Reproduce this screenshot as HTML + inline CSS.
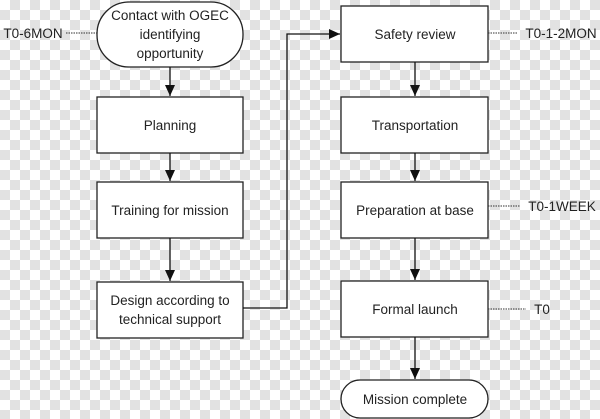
<!DOCTYPE html>
<html><head><style>
html,body{margin:0;padding:0}
body{width:600px;height:419px;overflow:hidden;
background-color:#fff;
background-image:linear-gradient(45deg,#e2e2e2 25%,transparent 25%,transparent 75%,#e2e2e2 75%),linear-gradient(45deg,#e2e2e2 25%,transparent 25%,transparent 75%,#e2e2e2 75%);
background-size:20px 20px;background-position:0 0,10px 10px;}
svg{position:absolute;left:0;top:0}
text{font-family:"Liberation Sans",sans-serif;font-size:13.5px;fill:#222;text-anchor:middle}
</style></head><body>
<svg width="600" height="419" viewBox="0 0 600 419">
<defs><marker id="a" markerWidth="12" markerHeight="12" refX="11" refY="5" orient="auto" markerUnits="userSpaceOnUse"><path d="M0,0 L11,5 L0,10 z" fill="#111"/></marker></defs>
<g stroke="#222" stroke-width="1.3" fill="#fff">
<rect x="97" y="2" width="146" height="65" rx="32"/>
<rect x="97" y="97" width="146" height="56"/>
<rect x="97" y="182" width="146" height="56"/>
<rect x="97" y="282" width="146" height="56"/>
<rect x="341" y="6" width="147" height="56"/>
<rect x="341" y="97" width="147" height="56"/>
<rect x="341" y="182" width="147" height="56"/>
<rect x="341" y="281" width="147" height="56"/>
<rect x="341" y="380" width="147" height="38" rx="19"/>
</g>
<g stroke="#111" stroke-width="1.3" fill="none" marker-end="url(#a)">
<line x1="170" y1="67" x2="170" y2="96"/>
<line x1="170" y1="153" x2="170" y2="181"/>
<line x1="170" y1="238" x2="170" y2="281"/>
<polyline points="243,308 287,308 287,34 340,34"/>
<line x1="415" y1="62" x2="415" y2="96"/>
<line x1="415" y1="153" x2="415" y2="181"/>
<line x1="415" y1="238" x2="415" y2="280"/>
<line x1="415" y1="337" x2="415" y2="379"/>
</g>
<g stroke="#333" stroke-width="1" stroke-dasharray="1.5,1" fill="none">
<line x1="66" y1="33" x2="97" y2="33"/>
<line x1="488" y1="33" x2="517" y2="33"/>
<line x1="488" y1="206" x2="520" y2="206"/>
<line x1="488" y1="309" x2="526" y2="309"/>
</g>
<text x="170" y="20">Contact with OGEC</text>
<text x="170" y="39">identifying</text>
<text x="170" y="58">opportunity</text>
<text x="170" y="130">Planning</text>
<text x="170" y="215">Training for mission</text>
<text x="170" y="305">Design according to</text>
<text x="170" y="324">technical support</text>
<text x="415" y="39">Safety review</text>
<text x="415" y="130">Transportation</text>
<text x="415" y="215">Preparation at base</text>
<text x="415" y="314">Formal launch</text>
<text x="415" y="404">Mission complete</text>
<text x="33" y="38">T0-6MON</text>
<text x="561" y="38">T0-1-2MON</text>
<text x="562" y="211">T0-1WEEK</text>
<text x="542" y="314">T0</text>
</svg>
</body></html>
